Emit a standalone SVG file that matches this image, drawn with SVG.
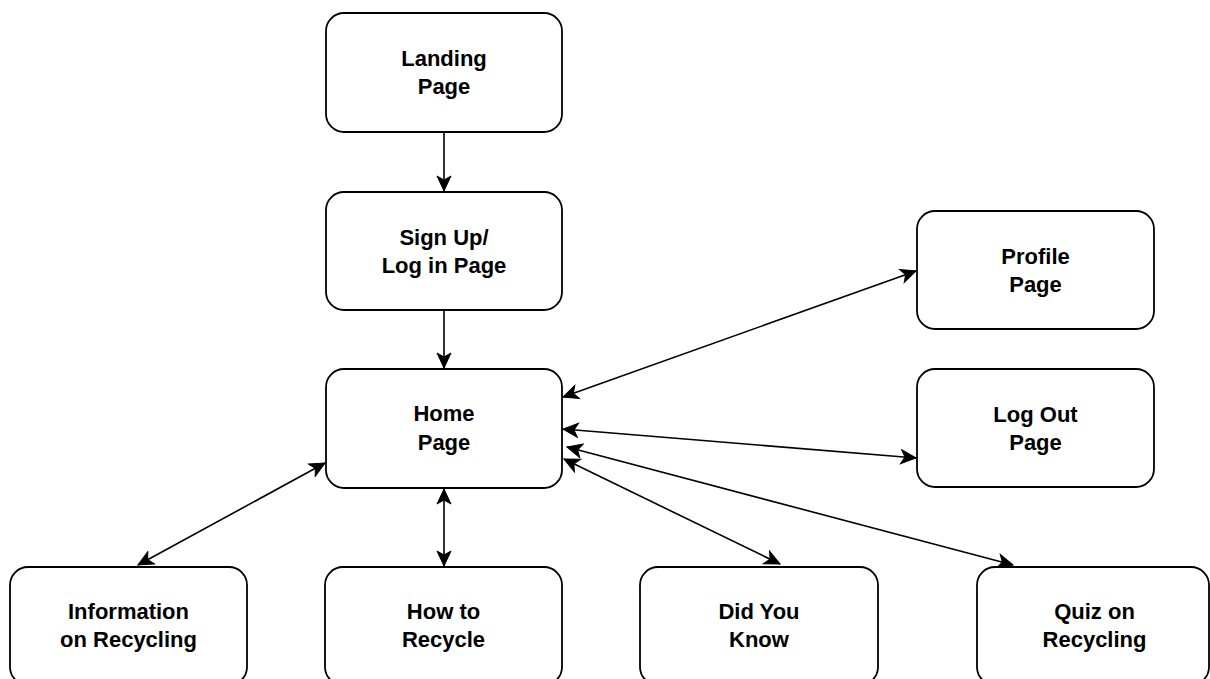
<svg xmlns="http://www.w3.org/2000/svg" width="1210" height="679" viewBox="0 0 1210 679">
<style>
.box{fill:#fff;stroke:#000;stroke-width:1.8}
.lbl{font-family:"Liberation Sans",Arial,Helvetica,sans-serif;font-weight:bold;font-size:22px;fill:#000;text-anchor:middle}
.edge{stroke:#000;stroke-width:1.6;fill:none}
</style>
<defs>
<marker id="arr" markerUnits="userSpaceOnUse" markerWidth="18" markerHeight="18" viewBox="0 0 18 18" refX="16" refY="9" orient="auto-start-reverse">
<path d="M1,2 L16,9 L1,16 L5,9 Z" fill="#000" stroke="#000" stroke-width="1"/>
</marker>
</defs>
<rect width="1210" height="679" fill="#fff"/>
<g id="connectors">
<line class="edge" x1="444" y1="132" x2="444" y2="191" marker-end="url(#arr)"/>
<line class="edge" x1="444" y1="310" x2="444" y2="368" marker-end="url(#arr)"/>
<line class="edge" x1="563" y1="397" x2="916" y2="271" marker-start="url(#arr)" marker-end="url(#arr)"/>
<line class="edge" x1="563" y1="429" x2="916" y2="458" marker-start="url(#arr)" marker-end="url(#arr)"/>
<line class="edge" x1="567" y1="447" x2="1013" y2="565" marker-start="url(#arr)" marker-end="url(#arr)"/>
<line class="edge" x1="564" y1="459" x2="780" y2="564" marker-start="url(#arr)" marker-end="url(#arr)"/>
<line class="edge" x1="325" y1="463" x2="138" y2="565" marker-start="url(#arr)" marker-end="url(#arr)"/>
<line class="edge" x1="444" y1="489" x2="444" y2="566" marker-start="url(#arr)" marker-end="url(#arr)"/>
</g>
<g id="landing"><rect class="box" x="326" y="13" width="236" height="119" rx="18"/><text class="lbl" x="444" y="66">Landing</text><text class="lbl" x="444" y="94">Page</text></g>
<g id="signup"><rect class="box" x="326" y="192" width="236" height="118" rx="18"/><text class="lbl" x="444" y="244.5">Sign Up/</text><text class="lbl" x="444" y="272.5">Log in Page</text></g>
<g id="home"><rect class="box" x="326" y="369" width="236" height="119" rx="18"/><text class="lbl" x="444" y="421">Home</text><text class="lbl" x="444" y="450">Page</text></g>
<g id="profile"><rect class="box" x="917" y="211" width="237" height="118" rx="18"/><text class="lbl" x="1035.5" y="263.5">Profile</text><text class="lbl" x="1035.5" y="291.5">Page</text></g>
<g id="logout"><rect class="box" x="917" y="369" width="237" height="118" rx="18"/><text class="lbl" x="1035.5" y="421.5">Log Out</text><text class="lbl" x="1035.5" y="449.5">Page</text></g>
<g id="info"><rect class="box" x="10" y="567" width="237" height="118" rx="18"/><text class="lbl" x="128.5" y="619">Information</text><text class="lbl" x="128.5" y="647">on Recycling</text></g>
<g id="howto"><rect class="box" x="325" y="567" width="237" height="118" rx="18"/><text class="lbl" x="443.5" y="619">How to</text><text class="lbl" x="443.5" y="647">Recycle</text></g>
<g id="didyouknow"><rect class="box" x="640" y="567" width="238" height="118" rx="18"/><text class="lbl" x="759" y="619">Did You</text><text class="lbl" x="759" y="647">Know</text></g>
<g id="quiz"><rect class="box" x="977" y="567" width="232" height="118" rx="18"/><text class="lbl" x="1094.5" y="619">Quiz on</text><text class="lbl" x="1094.5" y="647">Recycling</text></g>
</svg>
